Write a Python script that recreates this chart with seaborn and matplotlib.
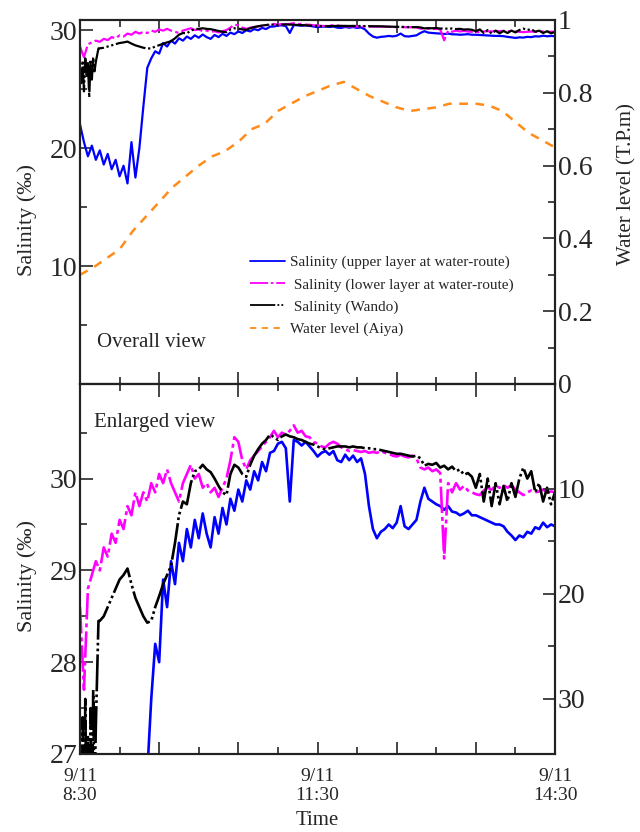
import numpy as np
import pandas as pd
import matplotlib
matplotlib.use("Agg")
import matplotlib.pyplot as plt
import seaborn as sns
from matplotlib.ticker import FixedLocator

sns.set_style("ticks")
plt.rcParams['font.family'] = ['Liberation Serif', 'DejaVu Serif']

# ---------------- data (minutes after 9/11 8:30) ----------------
t3 = np.arange(0, 361, 3)

upper_salinity = [
    22.0, 20.5, 19.3, 20.2, 19.0, 19.8, 18.6, 19.5, 18.2, 19.0, 17.6, 18.5, 17.0, 20.5, 17.5, 20.0,
    23.5, 26.8, 27.6, 28.2, 28.0, 28.9, 28.6, 29.1, 28.85, 29.3, 29.1, 29.45, 29.25, 29.55, 29.35, 29.62,
    29.4, 29.25, 29.58, 29.4, 29.68, 29.5, 29.78, 29.65, 29.88, 29.75, 29.98, 29.88, 30.08, 29.98, 30.18, 30.08,
    30.28, 30.3, 30.38, 30.4, 30.33, 29.75, 30.42, 30.4, 30.36, 30.4, 30.35, 30.3, 30.24, 30.28, 30.3, 30.26,
    30.3, 30.2, 30.18, 30.26, 30.2, 30.25, 30.18, 30.22, 30.05, 29.7, 29.45, 29.35, 29.42, 29.45, 29.5, 29.46,
    29.52, 29.7, 29.48, 29.45, 29.5, 29.55, 29.75, 29.9, 29.78, 29.75, 29.72, 29.7, 29.66, 29.7, 29.64, 29.63,
    29.6, 29.62, 29.65, 29.6, 29.6, 29.58, 29.56, 29.54, 29.52, 29.5, 29.5, 29.48, 29.42, 29.38, 29.33, 29.38,
    29.36, 29.42, 29.4, 29.47, 29.45, 29.52, 29.47, 29.5, 29.48]

lower_salinity = [
    28.6, 27.7, 28.8, 28.95, 29.1, 29.0, 29.25, 29.15, 29.4, 29.3, 29.55, 29.45, 29.7, 29.6, 29.85, 29.7,
    29.85, 29.75, 29.95, 29.85, 30.05, 29.95, 30.1, 29.95, 29.85, 29.75, 29.95, 30.05, 30.15, 30.0, 30.05, 29.9,
    29.95, 29.85, 29.9, 29.8, 29.9, 30.0, 30.2, 30.45, 30.4, 30.2, 30.1, 30.2, 30.25, 30.3, 30.35, 30.4,
    30.45, 30.52, 30.45, 30.5, 30.48, 30.52, 30.58, 30.5, 30.52, 30.46, 30.45, 30.4, 30.38, 30.35, 30.34, 30.38,
    30.4, 30.38, 30.34, 30.32, 30.3, 30.31, 30.3, 30.29, 30.3, 30.28, 30.29, 30.28, 30.3, 30.28, 30.27, 30.25,
    30.24, 30.26, 30.24, 30.23, 30.25, 30.22, 30.12, 30.1, 30.12, 30.08, 30.1, 30.06, 29.13, 29.95, 29.85, 29.95,
    29.88, 29.92, 29.87, 29.85, 29.83, 29.82, 29.87, 29.9, 29.88, 29.92, 29.9, 29.93, 29.9, 29.93, 29.88, 29.85,
    29.82, 29.85, 29.87, 29.85, 29.86, 29.88, 29.85, 29.86, 29.85]

wando_t = list(range(0, 15)) + list(range(15, 361, 3))
wando_salinity = [
    26.8, 25.5, 27.4, 24.8, 27.6, 26.0, 27.2, 24.3, 27.5, 25.8, 27.7, 26.5, 27.3, 27.9, 28.45,
    28.45, 28.5, 28.6, 28.7, 28.8, 28.9, 28.95, 29.02, 28.85, 28.7, 28.6, 28.5, 28.43, 28.45, 28.6, 28.72,
    28.85, 28.95, 29.05, 29.3, 29.6, 29.75, 29.72, 29.95, 30.08, 30.1, 30.15, 30.1, 30.07, 30.0, 29.92, 29.85,
    29.82, 30.05, 30.15, 30.12, 30.05, 30.02, 30.15, 30.25, 30.32, 30.38, 30.42, 30.48, 30.45, 30.42, 30.46, 30.48,
    30.46, 30.45, 30.43, 30.42, 30.4, 30.38, 30.37, 30.35, 30.33, 30.32, 30.33, 30.34, 30.35, 30.35, 30.35, 30.34,
    30.35, 30.34, 30.34, 30.33, 30.33, 30.32, 30.32, 30.31, 30.3, 30.29, 30.28, 30.27, 30.27, 30.26, 30.25, 30.24,
    30.25, 30.22, 30.14, 30.16, 30.15, 30.17, 30.12, 30.14, 30.1, 30.13, 30.08, 30.1, 30.04, 30.06, 30.02, 29.9,
    30.05, 29.75, 30.0, 29.7, 29.95, 29.72, 29.92, 29.75, 29.95, 29.8, 30.0, 30.12, 30.0, 30.08, 29.85, 29.95,
    29.75, 29.9, 29.72, 29.85]

level_t = np.arange(0, 361, 10)
water_level = [0.30, 0.32, 0.345, 0.37, 0.42, 0.46, 0.50, 0.54, 0.57, 0.60, 0.625, 0.64, 0.665,
               0.70, 0.715, 0.75, 0.77, 0.79, 0.805, 0.82, 0.83, 0.81, 0.79, 0.775, 0.76, 0.75,
               0.755, 0.76, 0.77, 0.77, 0.77, 0.765, 0.75, 0.72, 0.69, 0.67, 0.65]

xtick_labels = ["9/11\n8:30", "9/11\n11:30", "9/11\n14:30"]

labels = ["Salinity (upper layer at water-route)",
          " Salinity (lower layer at water-route)",
          " Salinity (Wando)",
          "Water level (Aiya)"]

# ---------------- figure ----------------
fig = plt.figure(figsize=(6.4, 8.32), dpi=100)
W, H = 640, 832
ax1 = fig.add_axes([80 / W, 1 - 384 / H, 475 / W, 364 / H])
ax2 = fig.add_axes([80 / W, 1 - 754 / H, 475 / W, 370 / H])

BLUE = "#0000FF"
MAG = "#FF00FF"
BLK = "#000000"
ORG = "#FF8C1A"

def draw_salinity(ax, lw):
    sns.lineplot(x=t3, y=upper_salinity, ax=ax, color=BLUE, lw=lw, estimator=None,
                 sort=False, label=labels[0])
    sns.lineplot(x=t3, y=lower_salinity, ax=ax, color=MAG, lw=lw, estimator=None,
                 sort=False, label=labels[1])
    sns.lineplot(x=wando_t, y=wando_salinity, ax=ax, color=BLK, lw=lw, estimator=None,
                 sort=False, label=labels[2])
    lines = ax.get_lines()
    lines[-2].set_dashes([10, 1.5, 1.5, 1.5])
    lines[-1].set_dashes([14, 1.2, 1.0, 1.2, 1.0, 1.2])

draw_salinity(ax1, 1.6)
draw_salinity(ax2, 1.9)

ax1r = ax1.twinx()
sns.lineplot(x=level_t, y=water_level, ax=ax1r, color=ORG, lw=1.8, estimator=None,
             label=labels[3])
ax1r.get_lines()[0].set_dashes([3.5, 3])

ax2r = ax2.twinx()

# limits
for ax in (ax1, ax2):
    ax.set_xlim(0, 360)
ax1.set_ylim(0, 30.85)
ax1r.set_ylim(0, 1)
ax2.set_ylim(27, 31.03)
ax2r.set_ylim(35.24, 0)

# ticks
for ax in (ax1, ax2):
    ax.xaxis.set_major_locator(FixedLocator(np.arange(0, 361, 60)))
    ax.xaxis.set_minor_locator(FixedLocator(np.arange(30, 361, 60)))
    ax.tick_params(axis='x', which='both', direction='in', top=True, bottom=True)
    ax.tick_params(axis='x', which='major', length=9, width=1.2)
    ax.tick_params(axis='x', which='minor', length=5, width=1.2)
    ax.tick_params(axis='y', which='both', direction='in', left=True, right=False, width=1.2)
    ax.tick_params(axis='y', which='major', length=9, labelsize=20, pad=2)
    ax.tick_params(axis='y', which='minor', length=5)

ax1.set_xticklabels([])
ax2.set_xticks(np.arange(0, 361, 60))
ax2.set_xticklabels([xtick_labels[0], "", "", xtick_labels[1], "", "", xtick_labels[2]])
ax2.tick_params(axis='x', which='major', labelsize=14, pad=10)
for lab in ax2.get_xticklabels():
    lab.set_linespacing(1.2)

ax1.yaxis.set_major_locator(FixedLocator([10, 20, 30]))
ax1.yaxis.set_minor_locator(FixedLocator([5, 15, 25]))
ax2.yaxis.set_major_locator(FixedLocator([27, 28, 29, 30]))
ax2.yaxis.set_minor_locator(FixedLocator([27.5, 28.5, 29.5, 30.5]))

for axr in (ax1r, ax2r):
    axr.tick_params(axis='y', which='both', direction='in', right=True, width=1.2)
    axr.tick_params(axis='y', which='major', length=9, labelsize=20, pad=2)
    axr.tick_params(axis='y', which='minor', length=5)
ax1r.yaxis.set_major_locator(FixedLocator([0, 0.2, 0.4, 0.6, 0.8, 1.0]))
ax1r.yaxis.set_minor_locator(FixedLocator([0.1, 0.3, 0.5, 0.7, 0.9]))
ax1r.set_yticklabels(["0", "0.2", "0.4", "0.6", "0.8", "1"])
ax2r.yaxis.set_major_locator(FixedLocator([0, 10, 20, 30]))
ax2r.yaxis.set_minor_locator(FixedLocator([5, 15, 25]))
ax2r.set_yticklabels(["", "10", "20", "30"])

for ax in (ax1, ax2, ax1r, ax2r):
    for s in ax.spines.values():
        s.set_linewidth(1.5)
        s.set_color("#222222")

# labels
ax1.set_ylabel("Salinity (‰)", fontsize=16)
ax2.set_ylabel("Salinity (‰)", fontsize=16)
ax1.yaxis.set_label_coords(-0.09, 0.45)
ax2.yaxis.set_label_coords(-0.09, 0.48)
ax1r.set_ylabel("Water level (T.P.m)", fontsize=15)
ax1r.yaxis.set_label_coords(1.13, 0.55)
ax2.set_xlabel("Time", fontsize=15, labelpad=5)
ax1.set_xlabel("")

ax1.text(0.035, 0.115, "Overall view", transform=ax1.transAxes, fontsize=15,
         ha='left', va='center')
ax2.text(0.03, 0.895, "Enlarged view", transform=ax2.transAxes, fontsize=15,
         ha='left', va='center')

# legend
for ax in (ax1, ax2, ax1r, ax2r):
    lg = ax.get_legend()
    if lg is not None:
        lg.remove()
h1 = ax1.get_lines()[:3]
h2 = ax1r.get_lines()[:1]
leg = ax1.legend(handles=list(h1) + list(h2), labels=labels, loc='upper left',
                 bbox_to_anchor=(0.345, 0.37), frameon=False, fontsize=11,
                 handlelength=2.3, handletextpad=0.35, labelspacing=0.55,
                 borderaxespad=0)
for lh in leg.get_lines():
    lh.set_linewidth(1.3)

fig.savefig("out.png", dpi=100)
